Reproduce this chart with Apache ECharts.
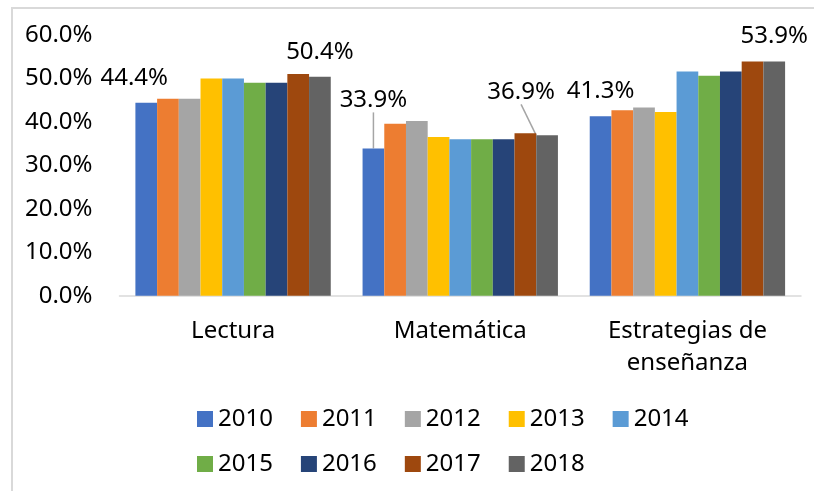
<!DOCTYPE html>
<html>
<head>
<meta charset="utf-8">
<script src="https://cdn.jsdelivr.net/npm/echarts@6/dist/echarts.min.js"></script>
<style>html,body{margin:0;padding:0;background:#fff;}#c{width:814px;height:491px;}</style>
</head>
<body>
<div id="c"></div>
<script>
const categories = ['Lectura', 'Matemática', 'Estrategias de\nenseñanza'];
const years = ['2010', '2011', '2012', '2013', '2014', '2015', '2016', '2017', '2018'];
const s2010 = [44.4, 33.9, 41.3];
const s2011 = [45.3, 39.6, 42.7];
const s2012 = [45.3, 40.2, 43.3];
const s2013 = [50.0, 36.5, 42.3];
const s2014 = [50.0, 36.0, 51.6];
const s2015 = [49.0, 36.0, 50.6];
const s2016 = [49.0, 36.0, 51.6];
const s2017 = [51.0, 37.4, 53.9];
const s2018 = [50.4, 36.9, 53.9];
const yTicks = [0, 10, 20, 30, 40, 50, 60];
const labeledYears = ['2010', '2018'];

const values = [s2010, s2011, s2012, s2013, s2014, s2015, s2016, s2017, s2018];
const colors = ['#4472C4', '#ED7D31', '#A5A5A5', '#FFC000', '#5B9BD5', '#70AD47', '#264478', '#9E480E', '#636363'];
const FONT = 'Noto Sans';
const FS = 24;

// label displacement (pixels) for specific labels: key = year|categoryIndex
const labelMoves = {
  '2010|0': {dx: -12, dy: 0, line: false},
  '2010|1': {dx: 0, dy: -23, line: true},
  '2018|1': {dx: -26, dy: -18, line: true}
};

const series = years.map((y, si) => ({
  name: y,
  type: 'bar',
  barGap: '0%',
  barCategoryGap: '14%',
  itemStyle: {color: colors[si]},
  label: {
    show: labeledYears.includes(y),
    position: 'top',
    distance: 13,
    fontFamily: FONT,
    fontSize: FS,
    color: '#000',
    formatter: p => p.value.toFixed(1) + '%'
  },
  labelLine: {show: true, lineStyle: {color: '#A5A5A5', width: 1.5}},
  labelLayout: function (params) {
    const m = labelMoves[y + '|' + params.dataIndex];
    if (!m) return {};
    return {dx: m.dx, dy: m.dy};
  },
  data: values[si].map((v, ci) => {
    const m = labelMoves[y + '|' + ci];
    return {value: v, labelLine: {show: !!(m && m.line)}};
  })
}));

const legendText = {fontFamily: FONT, fontSize: FS, color: '#000'};
const legendBase = {left: 197, padding: 0, itemWidth: 16, itemHeight: 16, itemGap: 28, icon: 'rect', textStyle: legendText};
const chart = echarts.init(document.getElementById('c'), null, {renderer: 'canvas'});
chart.setOption({
  animation: false,
  backgroundColor: '#fff',
  graphic: [{
    type: 'rect', shape: {x: 12, y: 8, width: 900, height: 600},
    style: {fill: 'none', stroke: '#D9D9D9', lineWidth: 2}, silent: true
  }],
  grid: {left: 119.5, right: 13, top: 35, bottom: 195.3, containLabel: false},
  legend: [
    Object.assign({data: years.slice(0, 5), top: 407}, legendBase),
    Object.assign({data: years.slice(5), top: 452}, legendBase)
  ],
  xAxis: {
    type: 'category',
    data: categories,
    axisLine: {lineStyle: {color: '#D9D9D9', width: 1.5}},
    axisTick: {show: false},
    axisLabel: {fontFamily: FONT, fontSize: FS, color: '#000', margin: 19, lineHeight: 32}
  },
  yAxis: {
    type: 'value',
    min: yTicks[0],
    max: yTicks[yTicks.length - 1],
    interval: 10,
    axisLine: {show: false},
    axisTick: {show: false},
    splitLine: {show: false},
    axisLabel: {fontFamily: FONT, fontSize: FS, color: '#000', margin: 27, formatter: v => v.toFixed(1) + '%'}
  },
  series: series
});
</script>
</body>
</html>
